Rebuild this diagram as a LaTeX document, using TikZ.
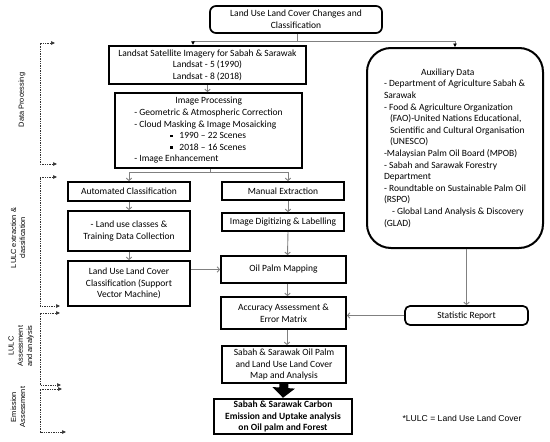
\documentclass[tikz,border=0pt]{standalone}
\usepackage{fontspec}
\setmainfont{Carlito}
\newfontfamily\arialf{Liberation Sans}
\usetikzlibrary{arrows.meta,calc}
\tikzset{
  box/.style={draw, line width=1.7pt, align=center, inner sep=0pt, font=\fontsize{9.5}{11.6}\selectfont},
  thickbox/.style={box, line width=2.4pt},
  conn/.style={draw=gray, line width=0.9pt, -{Straight Barb[length=2.5pt,width=5.5pt]}},
  topconn/.style={draw=gray, line width=0.9pt, -{Triangle[length=3.5pt,width=3.5pt,color=black]}},
  bracket/.style={draw=black!80, line width=0.7pt, dash pattern=on 1.4pt off 1pt, {Triangle[length=4pt,width=3.5pt]}-{Triangle[length=4pt,width=3.5pt]}},
  side/.style={font=\arialf\fontsize{7.4}{9.2}\selectfont, rotate=90, align=center, inner sep=0pt},
}
\begin{document}
\begin{tikzpicture}[x=1pt,y=-1pt]
\useasboundingbox (0,0) rectangle (550,442);

% boxes
\node[box, rounded corners=6pt, minimum width=172pt, minimum height=27pt] (top) at (296,19.5)
  {Land Use Land Cover Changes and\\Classification};
\node[thickbox, minimum width=197pt, minimum height=38pt] (landsat) at (207.5,65)
  {Landsat Satellite Imagery for Sabah \& Sarawak\\Landsat - 5 (1990)\\Landsat - 8 (2018)};
\node[box, align=left, minimum width=187pt, minimum height=75pt] (improc) at (208.5,130.5)
  {\hspace*{41pt}Image Processing\\
   - Geometric \& Atmospheric Correction\\
   - Cloud Masking \& Image Mosaicking\\
   \hspace*{36pt}\rule[1.6pt]{2.6pt}{2.6pt}\hspace*{6.5pt}1990 – 22 Scenes\\
   \hspace*{36pt}\rule[1.6pt]{2.6pt}{2.6pt}\hspace*{6.5pt}2018 – 16 Scenes\\
   - Image Enhancement};
\node[box, minimum width=122pt, minimum height=19pt] (auto) at (129,191.5) {Automated Classification};
\node[box, minimum width=122pt, minimum height=18pt] (manual) at (283,191) {Manual Extraction};
\node[box, minimum width=122pt, minimum height=40pt] (luc) at (129,231) {- Land use classes \&\\Training Data Collection};
\node[box, minimum width=122pt, minimum height=45pt] (lulc) at (129,283.5) {Land Use Land Cover\\Classification (Support\\Vector Machine)};
\node[box, minimum width=122pt, minimum height=18pt] (digit) at (283,222) {Image Digitizing \& Labelling};
\node[box, minimum width=125pt, minimum height=27pt] (oil) at (283.5,269.5) {Oil Palm Mapping};
\node[box, minimum width=125pt, minimum height=32pt] (acc) at (283.5,313) {Accuracy Assessment \&\\Error Matrix};
\node[box, minimum width=124pt, minimum height=37pt] (map) at (284,364.5) {Sabah \& Sarawak Oil Palm\\and Land Use Land Cover\\Map and Analysis};
\node[thickbox, minimum width=138pt, minimum height=35pt, font=\fontsize{9.5}{11.6}\selectfont\bfseries] (carbon) at (283,416.5)
  {Sabah \& Sarawak Carbon\\Emission and Uptake analysis\\on Oil palm and Forest};
\node[box, line width=2pt, rounded corners=24pt, align=left, minimum width=176pt, minimum height=200pt] (aux) at (455,148)
  {\hspace*{37pt}Auxiliary Data\\
   - Department of Agriculture Sabah \&\\
   Sarawak\\
   - Food \& Agriculture Organization\\
   \hspace*{6pt}(FAO)-United Nations Educational,\\
   \hspace*{6pt}Scientific and Cultural Organisation\\
   \hspace*{6pt}(UNESCO)\\
   -Malaysian Palm Oil Board (MPOB)\\
   - Sabah and Sarawak Forestry\\
   Department\\
   - Roundtable on Sustainable Palm Oil\\
   (RSPO)\\
   \hspace*{8pt}- Global Land Analysis \& Discovery\\
   (GLAD)};
\node[box, rounded corners=5pt, minimum width=123pt, minimum height=19pt] (stat) at (466.5,315.5) {Statistic Report};

% connectors
\coordinate (tj) at (297,41);
\draw[draw=gray, line width=0.9pt] (top.south -| tj) -- (tj);
\draw[topconn] (tj) -| ([xshift=-14.5pt]landsat.north);
\draw[topconn] (tj) -| (aux.north);
\draw[conn] (landsat.south) -- (landsat.south |- improc.north);
\coordinate (ij) at (210,172);
\draw[draw=gray, line width=0.9pt] (improc.south -| ij) -- (ij);
\draw[conn] (ij) -| (auto.north);
\draw[conn] (ij) -| ([xshift=5pt]manual.north);
\draw[conn] (auto.south) -- (luc.north);
\draw[conn] (luc.south) -- (lulc.north);
\draw[conn] ([xshift=5pt]manual.south) -- ([xshift=5pt]digit.north);
\draw[conn] ([xshift=5pt]digit.south) -- ([xshift=4pt]oil.north);
\draw[conn] (lulc.east |- oil.west) -- (oil.west);
\draw[conn] ([xshift=4pt]oil.south) -- ([xshift=4pt]acc.north);
\draw[conn] ([xshift=3.5pt]acc.south) -- ([xshift=3pt]map.north);
\draw[conn] (stat.north |- aux.south) -- (stat.north);
\draw[conn] (stat.west) -- (stat.west -| acc.east);
\draw[line width=9pt, -{Triangle[length=10pt,width=22pt]}] (map.south) -- (carbon.north);

% side brackets
\draw[bracket] (55,43) -- (40,43) -- (40,164) -- (57,164);
\draw[bracket] (57,177) -- (40,177) -- (40,306) -- (60,306);
\draw[bracket] (60,313) -- (40,313) -- (40,385) -- (61,385);
\draw[bracket] (62,389) -- (40,389) -- (40,432) -- (66,432);

\node[side] (l1) at (22,100) {Data Processing};
\node[side] (l2) at (18,238) {LULC extraction \&\\classification};
\node[side] (l3) at (21,346) {LULC\\Assessment\\and analysis};
\node[side] (l4) at (18,407) {Emission\\Assessment};

\node[font=\arialf\fontsize{8.6}{10}\selectfont, inner sep=0pt] (note) at (462,418) {*LULC = Land Use Land Cover};
\end{tikzpicture}
\end{document}
